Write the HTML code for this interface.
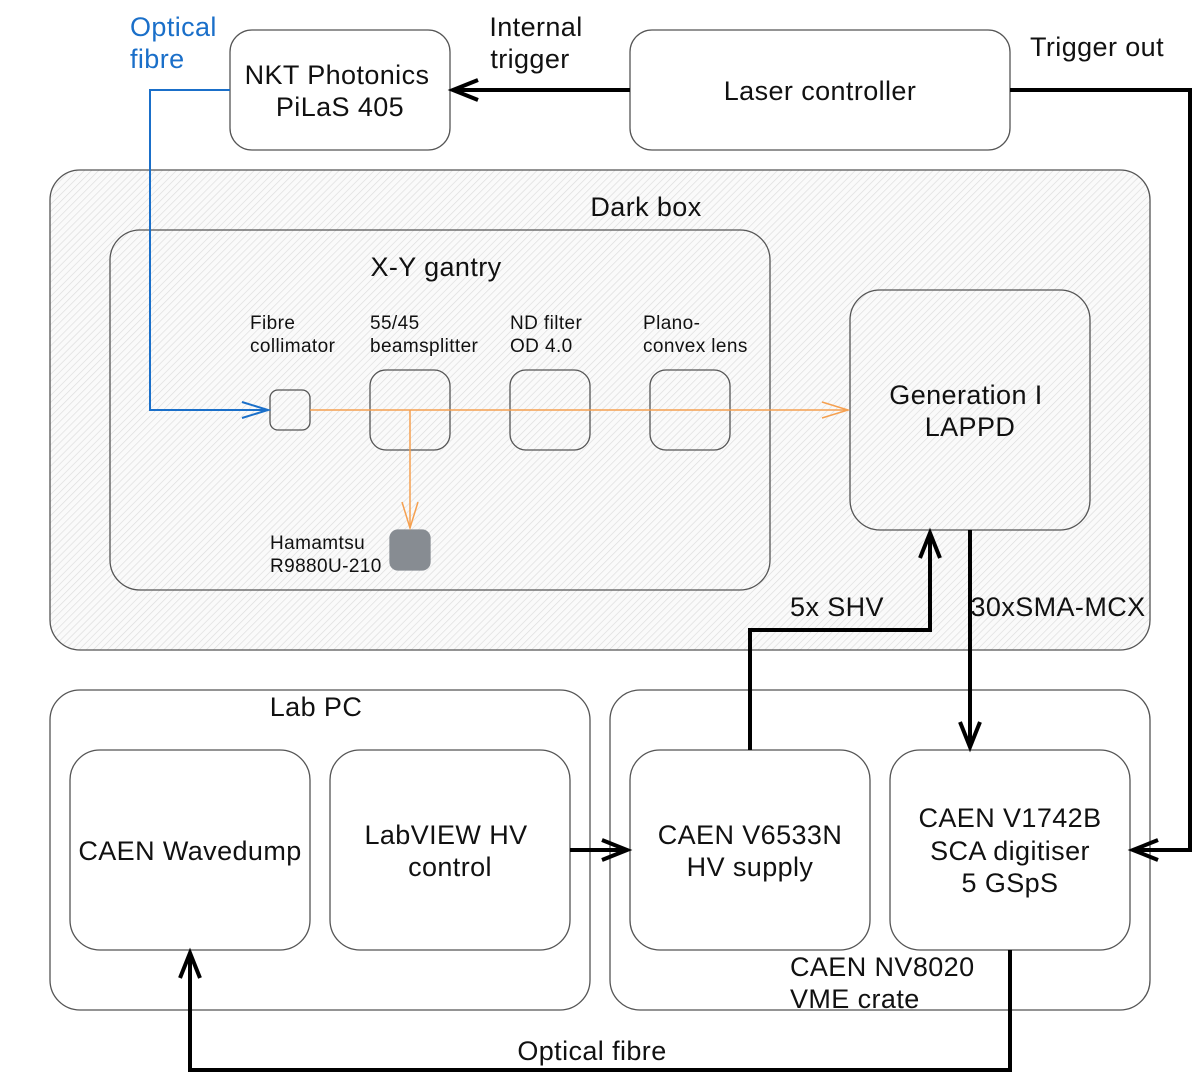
<!DOCTYPE html>
<html><head><meta charset="utf-8"><style>
html,body{margin:0;padding:0;background:#fff;}
svg{display:block;font-family:"Liberation Sans",sans-serif;}
</style></head><body>
<svg width="1200" height="1080" viewBox="0 0 1200 1080" xmlns="http://www.w3.org/2000/svg">
<defs>
<pattern id="h" patternUnits="userSpaceOnUse" width="5" height="5" patternTransform="rotate(45)">
<rect width="5" height="5" fill="#fafafa"/>
<line x1="0" y1="0" x2="0" y2="5" stroke="#dcdcdc" stroke-width="1.3"/>
</pattern>
</defs>
<g stroke="#555" stroke-width="1.3" fill="#fff">
<rect x="230" y="30" width="220" height="120" rx="22"/>
<rect x="630" y="30" width="380" height="120" rx="22"/>
<rect x="50" y="170" width="1100" height="480" rx="30" fill="url(#h)"/>
<rect x="110" y="230" width="660" height="360" rx="30" fill="url(#h)"/>
<rect x="850" y="290" width="240" height="240" rx="30" fill="url(#h)"/>
<rect x="270" y="390" width="40" height="40" rx="8" fill="none"/>
<rect x="370" y="370" width="80" height="80" rx="16" fill="none"/>
<rect x="510" y="370" width="80" height="80" rx="16" fill="none"/>
<rect x="650" y="370" width="80" height="80" rx="16" fill="none"/>
<rect x="390" y="530" width="40" height="40" rx="8" fill="#878c92" stroke="#878c92"/>
<rect x="50" y="690" width="540" height="320" rx="30"/>
<rect x="610" y="690" width="540" height="320" rx="30"/>
<rect x="70" y="750" width="240" height="200" rx="30"/>
<rect x="330" y="750" width="240" height="200" rx="30"/>
<rect x="630" y="750" width="240" height="200" rx="30"/>
<rect x="890" y="750" width="240" height="200" rx="30"/>
</g>
<g fill="none" stroke="#1a6fc9" stroke-width="2">
<polyline points="230,90 150,90 150,410 268,410"/>
<polyline points="242,402 268,410 242,418"/>
</g>
<g fill="none" stroke="#f5a050" stroke-width="1.5">
<line x1="310" y1="410" x2="848" y2="410"/>
<polyline points="822,402 848,410 822,418"/>
<line x1="410" y1="410" x2="410" y2="528"/>
<polyline points="402,502 410,528 418,502"/>
</g>
<g fill="none" stroke="#000" stroke-width="4">
<line x1="630" y1="90" x2="453" y2="90"/>
<polyline points="478,80 453,90 478,100"/>
<polyline points="1010,90 1190,90 1190,850 1133,850"/>
<polyline points="1158,840 1133,850 1158,860"/>
<polyline points="750,750 750,630 930,630 930,533"/>
<polyline points="920,558 930,533 940,558"/>
<line x1="970" y1="530" x2="970" y2="747"/>
<polyline points="960,722 970,747 980,722"/>
<line x1="570" y1="850" x2="627" y2="850"/>
<polyline points="602,840 627,850 602,860"/>
<polyline points="1010,950 1010,1070 190,1070 190,953"/>
<polyline points="180,978 190,953 200,978"/>
</g>
<g font-size="27" letter-spacing="0.4" fill="#111" text-anchor="middle">
<text x="337" y="84">NKT Photonics</text>
<text x="340" y="116">PiLaS 405</text>
<text x="820" y="100">Laser controller</text>
<text x="536" y="36">Internal</text>
<text x="530" y="68">trigger</text>
<text x="1097" y="56">Trigger out</text>
<text x="646" y="216">Dark box</text>
<text x="436" y="276">X-Y gantry</text>
<text x="966" y="404">Generation I</text>
<text x="970" y="436">LAPPD</text>
<text x="837" y="616">5x SHV</text>
<text x="1058" y="616">30xSMA-MCX</text>
<text x="316" y="716">Lab PC</text>
<text x="190" y="860">CAEN Wavedump</text>
<text x="446" y="844">LabVIEW HV</text>
<text x="450" y="876">control</text>
<text x="750" y="844">CAEN V6533N</text>
<text x="750" y="876">HV supply</text>
<text x="1010" y="827">CAEN V1742B</text>
<text x="1010" y="860">SCA digitiser</text>
<text x="1010" y="892">5 GSpS</text>
<text x="592" y="1060">Optical fibre</text>
</g>
<g font-size="27" letter-spacing="0.4" fill="#111">
<text x="790" y="976">CAEN NV8020</text>
<text x="790" y="1008">VME crate</text>
</g>
<g font-size="27" letter-spacing="0.4" fill="#1a6fc9">
<text x="130" y="36">Optical</text>
<text x="130" y="68">fibre</text>
</g>
<g font-size="19" letter-spacing="0.4" fill="#111">
<text x="250" y="329">Fibre</text>
<text x="250" y="352">collimator</text>
<text x="370" y="329">55/45</text>
<text x="370" y="352">beamsplitter</text>
<text x="510" y="329">ND filter</text>
<text x="510" y="352">OD 4.0</text>
<text x="643" y="329">Plano-</text>
<text x="643" y="352">convex lens</text>
<text x="270" y="549">Hamamtsu</text>
<text x="270" y="572">R9880U-210</text>
</g>
</svg>
</body></html>
